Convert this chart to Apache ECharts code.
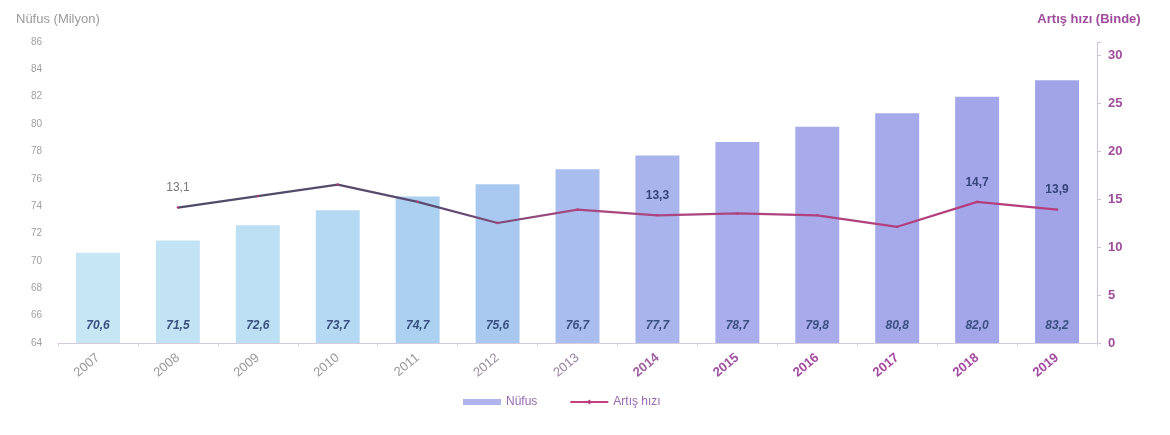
<!DOCTYPE html>
<html><head><meta charset="utf-8">
<script src="https://cdn.jsdelivr.net/npm/echarts@6/dist/echarts.min.js"></script>
<style>html,body{margin:0;padding:0;background:#fff}#c{width:1170px;height:435px}</style>
</head><body><div id="c"></div>
<script>
var years = ['2007','2008','2009','2010','2011','2012','2013','2014','2015','2016','2017','2018','2019'];
var population = [70.6, 71.5, 72.6, 73.7, 74.7, 75.6, 76.7, 77.7, 78.7, 79.8, 80.8, 82.0, 83.2];
var growthRate = [null, 14.1, 15.3, 16.5, 14.7, 12.5, 13.9, 13.3, 13.5, 13.3, 12.1, 14.7, 13.9];
var growthLabels = ['', '13,1', '', '', '', '', '', '13,3', '', '', '', '14,7', '13,9'];
var leftTicks = {min: 64, max: 86, step: 2};
var rightTicks = {min: 0, step: 5, top: 30};

var barColors = ['#c6e6f3','#c2e3f3','#bcdff3','#b5d9f2','#acd0f0','#a9c8ef','#a9bdee','#a9b3ec','#aaadeb','#a8aaea','#a5a8e9','#a3a6e8','#a0a4e7'];
var yearColors = ['#9a9a9a','#9a9a9a','#9a9a9a','#9a9a9a','#9a9a9a','#9a8fa0','#9a80a2','#a060a0','#a050a0','#a34aa0','#a448a0','#a448a0','#a448a0'];
var labelColors = ['#777777','#777777','#34447a','#34447a','#34447a','#34447a','#34447a','#34447a','#34447a','#34447a','#34447a','#34447a','#34447a'];

var chart = echarts.init(document.getElementById('c'), null, {renderer: 'canvas'});
chart.setOption({
  animation: false,
  backgroundColor: '#fff',
  title: {text: 'Nüfus (Milyon)', left: 11, top: 8, textStyle: {fontSize: 13, color: '#9a9a9a', fontWeight: 'normal', fontFamily: 'Liberation Sans'}},
  grid: {left: 58, right: 73, top: 42, bottom: 92},
  legend: {
    bottom: 22, left: 458, itemGap: 32, itemWidth: 38, itemHeight: 6,
    textStyle: {color: '#9868b0', fontSize: 12, fontFamily: 'Liberation Sans'},
    data: [
      {name: 'Nüfus', icon: 'rect', itemStyle: {color: '#b0b4ec'}},
      {name: 'Artış hızı', itemStyle: {color: '#b43c7c'}, lineStyle: {color: '#c04080', width: 2}}
    ]
  },
  xAxis: {
    type: 'category',
    data: years.map(function (y, i) { return {value: y, textStyle: {color: yearColors[i], fontWeight: i > 6 ? 'bold' : 'normal'}}; }),
    axisLine: {lineStyle: {color: '#d4ccdc'}},
    axisTick: {show: true, alignWithLabel: false, length: 3, lineStyle: {color: '#d4ccdc'}},
    axisLabel: {rotate: 40, fontSize: 13, margin: 13, fontFamily: 'Liberation Sans'}
  },
  yAxis: [
    {
      type: 'value', min: leftTicks.min, max: leftTicks.max, interval: leftTicks.step,
      axisLine: {show: false}, axisTick: {show: false}, splitLine: {show: false},
      axisLabel: {color: '#a0a0a0', fontSize: 10, margin: 16, fontFamily: 'Liberation Sans'}
    },
    {
      type: 'value', min: rightTicks.min, max: 31.35, interval: rightTicks.step,
      name: 'Artış hızı (Binde)', nameLocation: 'end', nameGap: 16,
      nameTextStyle: {color: '#a04c9c', fontSize: 13, fontWeight: 'bold', fontFamily: 'Liberation Sans', padding: [0, 0, 0, -16]},
      position: 'right',
      axisLine: {show: true, lineStyle: {color: '#d0c4dc'}},
      axisTick: {show: true, length: 4, lineStyle: {color: '#d0c4dc'}},
      splitLine: {show: false},
      axisLabel: {
        color: '#a04c9c', fontSize: 13, fontWeight: 'bold', margin: 11, fontFamily: 'Liberation Sans',
        formatter: function (v) { return (v % rightTicks.step === 0 && v <= rightTicks.top) ? String(v) : ''; }
      }
    }
  ],
  series: [
    {
      name: 'Nüfus', type: 'bar', barWidth: '55%', yAxisIndex: 0,
      itemStyle: {color: '#aab2ec'},
      data: population.map(function (v, i) { return {value: v, itemStyle: {color: barColors[i]}}; }),
      label: {
        show: true, position: 'insideBottom', distance: 11,
        color: '#3a5080', fontSize: 12, fontWeight: 'bold', fontStyle: 'italic', fontFamily: 'Liberation Sans',
        formatter: function (p) { return p.value.toFixed(1).replace('.', ','); }
      },
      z: 1
    },
    {
      name: 'Artış hızı', type: 'line', yAxisIndex: 1,
      data: growthRate.map(function (v, i) { return {value: v, label: {color: labelColors[i], fontWeight: i === 1 ? 'normal' : 'bold'}}; }),
      symbol: 'diamond', symbolSize: 3, showSymbol: true,
      itemStyle: {color: '#b43c7c'},
      lineStyle: {
        width: 2.2,
        color: new echarts.graphic.LinearGradient(0, 0, 1, 0, [
          {offset: 0, color: '#4c4c66'},
          {offset: 0.3, color: '#5c4a70'},
          {offset: 0.45, color: '#a84880'},
          {offset: 1, color: '#b83c7c'}
        ])
      },
      label: {
        show: true, position: 'top', distance: 12,
        fontSize: 12, fontWeight: 'bold', fontFamily: 'Liberation Sans', color: '#34447a',
        formatter: function (p) { return growthLabels[p.dataIndex]; }
      },
      labelLayout: {hideOverlap: false},
      z: 3
    }
  ]
});
</script>
</body></html>
